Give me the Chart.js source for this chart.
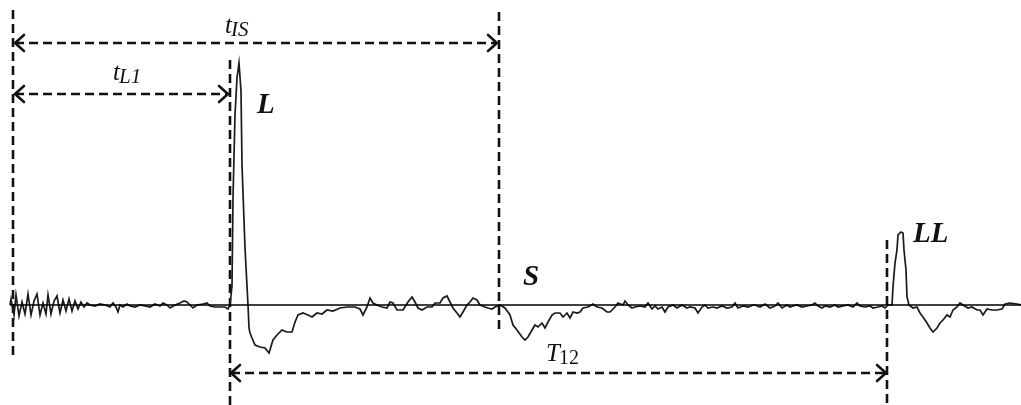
<!DOCTYPE html>
<html>
<head>
<meta charset="utf-8">
<script src="https://cdn.jsdelivr.net/npm/chart.js@4.4.1/dist/chart.umd.min.js"></script>
<style>
  body { margin: 0; background: #fff; }
  #wrap { width: 1021px; height: 405px; position: relative; }
</style>
</head>
<body>
<div id="wrap"><canvas id="signalChart"></canvas></div>
<script>
// signal samples as [time, amplitude], amplitude 0 = baseline
const ringing = [[10,0],[11,6],[14,-10],[16,10],[19,-11],[22,3],[25,-9],[28,11],[31,-10],[34,4],[37,11],[40,-10],[43,2],[46,-9],[48,10],[51,-9],[54,4],[57,9],[60,-8],[63,5],[66,-6],[69,6],[72,-6],[75,4],[78,-4],[81,3],[84,-2],[87,2]];
const preNoise = [[90,0],[95,-1],[100,1],[105,0],[110,-2],[113,2],[116,-2],[118,-7],[120,0],[123,-2],[127,1],[130,-1],[135,-2],[140,0],[145,-1],[150,-2],[155,1],[160,-1],[163,2],[167,0],[170,-3],[175,0],[180,2],[184,4],[187,3],[190,0],[193,-3],[197,0],[203,1],[207,2],[210,-1],[215,-2],[220,-2],[225,-2],[228,-4],[230,0]];
const pulseL = [[232,19],[233,107],[235,190],[237,227],[239,242],[241,214],[242,140],[245,57],[248,0],[249,-23],[250,-28],[252,-33],[255,-40],[260,-42],[265,-43],[269,-48],[273,-35],[277,-30],[282,-25],[287,-27],[292,-27],[295,-17],[298,-10],[303,-8],[308,-10],[312,-12],[317,-8],[322,-9],[327,-5],[333,-6],[340,-3],[347,-2],[355,-2],[360,-4],[363,-10],[367,-2],[370,7],[373,2],[377,0],[382,-2],[387,-3],[390,3],[393,2],[397,-5],[403,-5],[408,3],[412,8],[415,3],[418,-3],[422,-5],[427,-2],[432,-2],[435,2],[440,2],[443,7],[447,9],[450,3],[453,-3],[457,-8],[460,-12],[463,-7],[467,0],[470,3],[473,7],[477,5],[480,0],[485,-2],[488,-3],[492,-4],[495,-2]];
const pulseS = [[500,0],[505,-3],[510,-10],[513,-20],[517,-25],[522,-32],[525,-35],[528,-32],[532,-25],[535,-20],[538,-22],[542,-18],[545,-23],[548,-17],[552,-10],[555,-8],[560,-8],[563,-12],[567,-8],[570,-13],[573,-7],[577,-8],[580,-7],[583,-3],[588,-2],[593,1],[597,-2],[602,-3],[607,-7],[610,-7],[615,-2],[618,2],[623,0],[625,4],[628,0],[632,-3],[635,-2],[640,-1],[645,-2],[648,2],[652,-4],[655,-1],[658,-4],[662,-2],[665,-7],[668,-2],[673,0],[677,-3],[682,0],[687,-3],[690,-2],[695,-3],[698,-8],[702,-2],[705,0],[708,-3],[713,-2],[717,-3],[722,-1],[727,-3],[732,-2],[735,2],[738,-3],[743,-1],[748,-2],[753,0]];
const lateNoise = [[755,0],[760,-2],[765,1],[770,-3],[775,-1],[778,2],[782,-3],[787,0],[790,-2],[793,-1],[797,0],[802,-2],[807,-1],[812,0],[815,2],[818,-1],[822,-3],[825,-1],[830,-2],[835,0],[838,-2],[843,-1],[848,0],[853,-2],[857,2],[860,-1],[865,-2],[870,-1],[873,-3],[878,-2],[882,-1],[885,-3],[888,0]];
const pulseLL = [[892,0],[893,18],[895,42],[897,55],[898,70],[901,73],[903,72],[904,55],[906,35],[907,8],[909,0],[913,-3],[917,-2],[920,-8],[923,-12],[927,-18],[930,-23],[933,-27],[937,-23],[940,-18],[943,-15],[947,-10],[950,-12],[953,-5],[957,-2],[960,2],[963,0],[968,-3],[972,-2],[977,-5],[980,-5],[983,-10],[987,-4],[992,-5],[997,-5],[1002,-4],[1005,1],[1010,2],[1017,1],[1021,0]];

// event markers (vertical dashed lines): time, top, bottom
const markerX = [13, 230, 499, 887];
const markerTop = [295, 245, 293, 65];
const markerBottom = [-55, -100, -25, -100];

// interval arrows: from, to, level
const arrowFrom = [15, 15, 231];
const arrowTo = [497, 228, 886];
const arrowLevel = [262, 211, -68];

// text labels
const labelMain = ['t', 't', 'L', 'S', 'LL', 'T'];
const labelSub = ['IS', 'L1', '', '', '', '12'];
const labelX = [225, 113, 257, 523, 913, 546];
const labelY = [272, 225, 192, 20, 63, -56];
const labelBold = [false, false, true, true, true, false];

const signal = [].concat(ringing, preNoise, pulseL, pulseS, lateNoise, pulseLL);
const toPts = arr => arr.map(p => ({ x: p[0], y: p[1] }));

const datasets = [];
// baseline
datasets.push({
    data: [{ x: 10, y: 0 }, { x: 1021, y: 0 }],
    borderColor: '#000', borderWidth: 1.3, pointRadius: 0
});
datasets.push({
    data: toPts(signal),
    borderColor: '#1a1a1a', borderWidth: 1.7, pointRadius: 0, tension: 0
});
markerX.forEach((x, i) => {
    datasets.push({
        data: [{ x: x, y: markerTop[i] }, { x: x, y: markerBottom[i] }],
        borderColor: '#111', borderWidth: 2.6, borderDash: [9, 5], pointRadius: 0
    });
});
arrowFrom.forEach((x, i) => {
    datasets.push({
        data: [{ x: x, y: arrowLevel[i] }, { x: arrowTo[i], y: arrowLevel[i] }],
        borderColor: '#111', borderWidth: 2.6, borderDash: [9, 5], pointRadius: 0
    });
});

// arrowheads and labels drawn on top, positioned through the chart scales
const annotate = {
    id: 'annotate',
    afterDatasetsDraw(chart) {
        const ctx = chart.ctx;
        const xs = chart.scales.x, ys = chart.scales.y;
        ctx.save();
        ctx.strokeStyle = '#111';
        ctx.lineWidth = 2.6;
        ctx.lineCap = 'round';
        ctx.lineJoin = 'miter';
        arrowFrom.forEach((x, i) => {
            const y = ys.getPixelForValue(arrowLevel[i]);
            const a = xs.getPixelForValue(x);
            const b = xs.getPixelForValue(arrowTo[i]);
            ctx.beginPath();
            ctx.moveTo(a + 9, y - 8); ctx.lineTo(a, y); ctx.lineTo(a + 9, y + 8);
            ctx.moveTo(b - 9, y - 8); ctx.lineTo(b, y); ctx.lineTo(b - 9, y + 8);
            ctx.stroke();
        });
        ctx.fillStyle = '#111';
        ctx.textBaseline = 'alphabetic';
        labelMain.forEach((t, i) => {
            const px = xs.getPixelForValue(labelX[i]);
            const py = ys.getPixelForValue(labelY[i]);
            ctx.font = (labelBold[i] ? 'italic bold 29px' : 'italic 25px') + ' "Liberation Serif"';
            ctx.fillText(t, px, py);
            if (labelSub[i]) {
                const w = ctx.measureText(t).width;
                ctx.font = (i === 5 ? '20px' : 'italic 21px') + ' "Liberation Serif"';
                ctx.fillText(labelSub[i], px + w - 1, py + 3);
            }
        });
        ctx.restore();
    }
};

new Chart(document.getElementById('signalChart'), {
    type: 'line',
    data: { datasets: datasets },
    options: {
        responsive: true,
        maintainAspectRatio: false,
        animation: false,
        layout: { padding: 0 },
        plugins: { legend: { display: false }, tooltip: { enabled: false } },
        scales: {
            x: { type: 'linear', min: 0, max: 1021, display: false },
            y: { type: 'linear', min: -100, max: 305, display: false }
        }
    },
    plugins: [annotate]
});
</script>
</body>
</html>
